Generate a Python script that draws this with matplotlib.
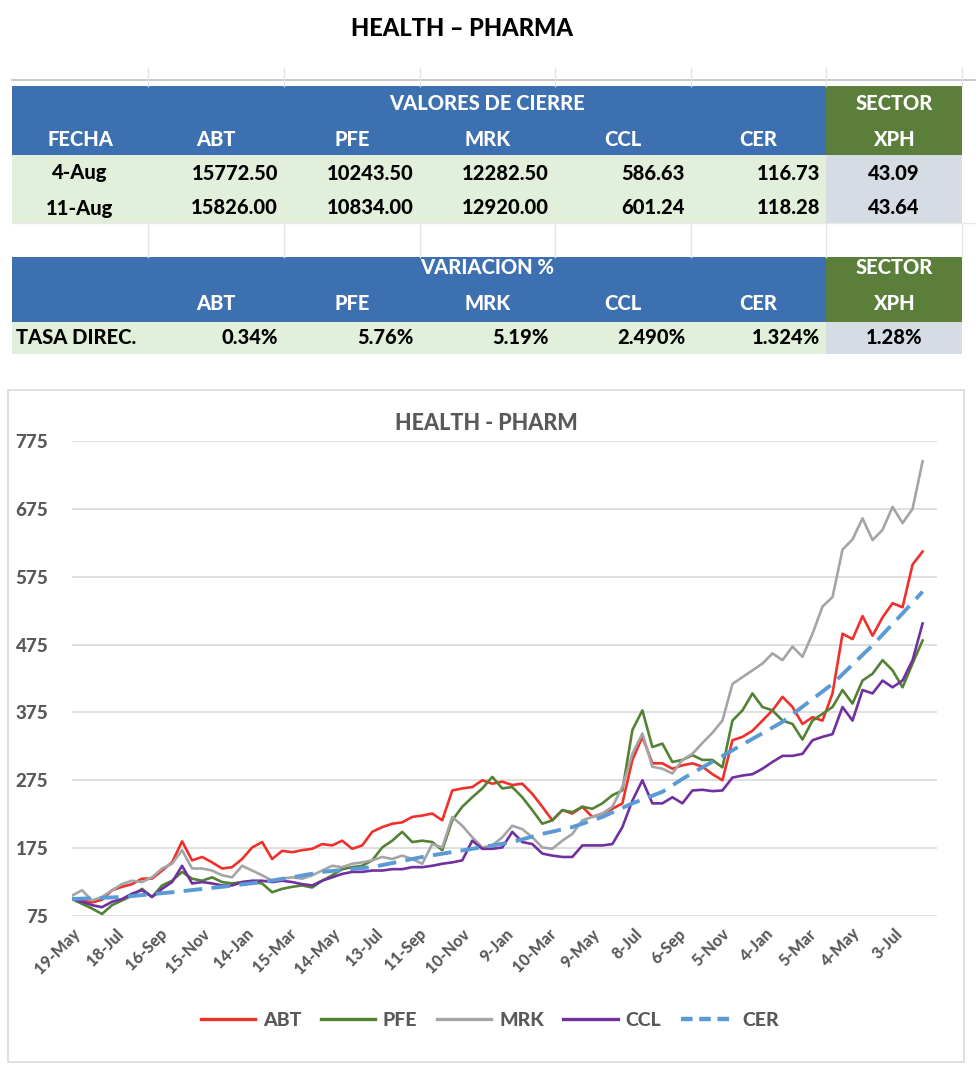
import matplotlib
matplotlib.use('Agg')
import matplotlib.pyplot as plt
from matplotlib.patches import Rectangle
from matplotlib.lines import Line2D
import pandas as pd

plt.rcParams['font.family'] = ['Lato', 'DejaVu Sans']

# ---------------- DATA ----------------
table_cols = ['ABT', 'PFE', 'MRK', 'CCL', 'CER']
fechas = ['4-Aug', '11-Aug']
close_4aug = [15772.50, 10243.50, 12282.50, 586.63, 116.73]
close_11aug = [15826.00, 10834.00, 12920.00, 601.24, 118.28]
xph_close = [43.09, 43.64]
variacion = ['0.34%', '5.76%', '5.19%', '2.490%', '1.324%']
xph_var = '1.28%'

dates = pd.date_range('2020-05-19', '2023-08-11', periods=86)

abt = [100, 98, 95, 99, 113, 118, 122, 130, 130, 142, 154, 185, 157, 162, 154, 145, 147, 159, 176, 184, 159, 171, 169,
       172, 174, 181, 179, 186, 174, 179, 199, 206, 211, 213, 221, 223, 226, 216, 260, 263, 265, 275, 270, 273, 268, 270,
       255, 236, 216, 231, 226, 236, 221, 226, 233, 241, 305, 339, 300, 300, 292, 297, 300, 295, 284,
       275, 334, 339, 348, 363, 378, 398, 383, 358, 368, 363, 403, 491, 483, 517, 488, 515, 536, 530, 593, 612]
pfe = [100, 93, 86, 78, 91, 98, 105, 115, 103, 120, 127, 140, 130, 127, 132, 125, 123, 125, 125, 123, 110, 115, 118,
       120, 117, 127, 135, 144, 147, 149, 157, 176, 186, 199, 184, 186, 184, 172, 216, 236, 250, 263, 280, 263, 265, 250,
       231, 211, 216, 231, 228, 236, 233, 241, 253, 260, 349, 378, 324, 329, 302, 305, 312, 305, 305,
       294, 363, 378, 403, 383, 378, 363, 358, 335, 363, 373, 383, 408, 388, 422, 432, 452, 437, 412, 447, 481]
mrk = [105, 113, 98, 103, 113, 122, 127, 125, 132, 145, 152, 172, 145, 145, 142, 135, 132, 149, 142, 135, 127, 130, 132,
       130, 135, 142, 149, 147, 152, 154, 157, 162, 159, 164, 159, 152, 181, 176, 221, 208, 191, 176, 179, 191, 208, 203,
       191, 176, 174, 186, 196, 216, 221, 226, 236, 265, 314, 344, 295, 292, 285, 305, 314, 330, 345,
       363, 417, 427, 437, 447, 462, 452, 472, 457, 491, 531, 545, 615, 630, 661, 629, 644, 678, 654, 675, 745]
ccl = [100, 96, 91, 88, 96, 100, 108, 113, 103, 115, 125, 149, 123, 125, 123, 120, 120, 125, 127, 127, 125, 127, 125,
       122, 120, 127, 132, 137, 140, 140, 142, 142, 144, 144, 147, 147, 149, 152, 154, 157, 186, 174, 174, 176, 199, 184,
       181, 167, 164, 162, 162, 179, 179, 179, 181, 206, 245, 275, 241, 241, 250, 241, 260, 261, 259,
       260, 279, 282, 284, 292, 302, 311, 311, 314, 334, 339, 343, 383, 363, 408, 403, 422, 412, 422, 452, 506]
cer_idx = [0, 5, 10, 15, 19, 22, 25, 30, 35, 40, 44, 47, 50, 53, 56, 59, 61, 63, 68, 71, 76, 80, 83, 85]
cer = [100, 103, 110, 118, 125, 132, 140, 147, 162, 174, 184, 196, 206, 221, 241, 258, 277, 294, 336, 361, 417, 474, 521, 553]

series_names = ['ABT', 'PFE', 'MRK', 'CCL', 'CER']
colors = {'ABT': '#F0302A', 'PFE': '#548235', 'MRK': '#A5A5A5', 'CCL': '#7030A0', 'CER': '#5B9BD5'}

# ---------------- FIGURE ----------------
W, H = 980, 1068
fig = plt.figure(figsize=(W / 100, H / 100), dpi=100)

bg = fig.add_axes([0, 0, 1, 1])
bg.set_xlim(0, W)
bg.set_ylim(H, 0)
bg.axis('off')

BLUE = '#3D70B1'
DGREEN = '#5B7F3B'
LGREEN = '#E2EFDA'
LGRAY = '#D6DCE4'
FW = 'black'

bg.text(462, 28, 'HEALTH – PHARMA', ha='center', va='center', fontsize=17, fontweight=FW, color='black')

xe = [12, 148, 284, 420, 555, 691, 826, 962]
bg.plot([12, 975], [80, 80], color='#BFBFBF', lw=1.2)
for x in xe[1:]:
    bg.plot([x, x], [68, 86], color='#E3E3E3', lw=1)
    bg.plot([x, x], [223, 257], color='#E3E3E3', lw=1)
bg.plot([12, 975], [223, 223], color='#E8E8E8', lw=1)

def rect(x0, y0, x1, y1, c):
    bg.add_patch(Rectangle((x0, y0), x1 - x0, y1 - y0, facecolor=c, edgecolor='none'))

rect(12, 86, 826, 155, BLUE)
rect(826, 86, 962, 155, DGREEN)
rect(12, 155, 826, 223, LGREEN)
rect(826, 155, 962, 223, LGRAY)
rect(12, 257, 826, 322, BLUE)
rect(826, 257, 962, 322, DGREEN)
rect(12, 322, 826, 354, LGREEN)
rect(826, 322, 962, 354, LGRAY)

tfs = 14.5
centers = [(xe[i] + xe[i + 1]) / 2 for i in range(7)]
def T(x, y, s, ha='center', c='white'):
    bg.text(x, y, s, ha=ha, va='center', color=c, fontsize=tfs, fontweight=FW)

T(487, 104, 'VALORES DE CIERRE')
T(centers[6], 104, 'SECTOR')
T(centers[0], 139, 'FECHA')
for j, name in enumerate(table_cols):
    T(centers[j + 1], 139, name)
T(centers[6], 139, 'XPH')

for r, (f, vals, xv) in enumerate(zip(fechas, [close_4aug, close_11aug], xph_close)):
    yy = 173 + r * 35
    T(centers[0], yy, f, c='black')
    for j, v in enumerate(vals):
        T(xe[j + 2] - 6, yy, f'{v:.2f}', ha='right', c='black')
    T(centers[6], yy, f'{xv:.2f}', c='black')

T(487, 267, 'VARIACION %')
T(centers[6], 267, 'SECTOR')
for j, name in enumerate(table_cols):
    T(centers[j + 1], 303, name)
T(centers[6], 303, 'XPH')
T(16, 337, 'TASA DIREC.', ha='left', c='black')
for j, v in enumerate(variacion):
    T(xe[j + 2] - 6, 337, v, ha='right', c='black')
T(centers[6], 337, xph_var, c='black')

bg.add_patch(Rectangle((8, 390), 956, 672, facecolor='none', edgecolor='#D9D9D9', lw=1.2))
bg.text(486, 423, 'HEALTH - PHARM', ha='center', va='center', fontsize=15.5, fontweight=FW, color='#595959')

# ---------------- CHART ----------------
L, R, Tp, B = 72, 937, 441, 916
ax = fig.add_axes([L / W, 1 - B / H, (R - L) / W, (B - Tp) / H])
ax.set_facecolor('none')

data = {'ABT': abt, 'PFE': pfe, 'MRK': mrk, 'CCL': ccl}
for name in ['ABT', 'PFE', 'MRK', 'CCL']:
    ax.plot(dates, data[name], color=colors[name], lw=1.9, label=name, solid_joinstyle='round')
cer_dates = [dates[i] for i in cer_idx]
ax.plot(cer_dates, cer, color=colors['CER'], lw=2.8, dashes=(4.8, 2.4), label='CER')

ax.set_ylim(75, 775)
ax.set_yticks(range(75, 776, 100))
ax.set_xlim(pd.Timestamp('2020-05-19'), pd.Timestamp('2023-08-31'))
ticks = pd.date_range('2020-05-19', '2023-07-03', freq='60D')
ax.set_xticks(ticks)
ax.set_xticklabels([f'{d.day}-{d.strftime("%b")}' for d in ticks], rotation=45, ha='right',
                   rotation_mode='anchor', fontsize=11.5, fontweight=FW, color='#595959')
for lab in ax.get_yticklabels():
    lab.set_fontweight(FW)
ax.tick_params(axis='y', length=0, pad=17, labelsize=13.5, labelcolor='#595959')
ax.tick_params(axis='x', length=0, pad=7)
ax.grid(axis='y', color='#D9D9D9', lw=1.2)
ax.set_axisbelow(True)
for s in ax.spines.values():
    s.set_visible(False)

handles = [Line2D([0], [0], color=colors[n], lw=2.4) for n in ['ABT', 'PFE', 'MRK', 'CCL']]
handles.append(Line2D([0], [0], color=colors['CER'], lw=3.2, dashes=(2.6, 1.5)))
leg = fig.legend(handles, series_names, loc='center', bbox_to_anchor=(490 / W, 1 - 1020 / H), ncol=5,
                 frameon=False, fontsize=14, handlelength=2.8, handletextpad=0.4, columnspacing=1.0)
for t in leg.get_texts():
    t.set_color('#595959')
    t.set_fontweight(FW)

fig.savefig('out.png', dpi=100)
